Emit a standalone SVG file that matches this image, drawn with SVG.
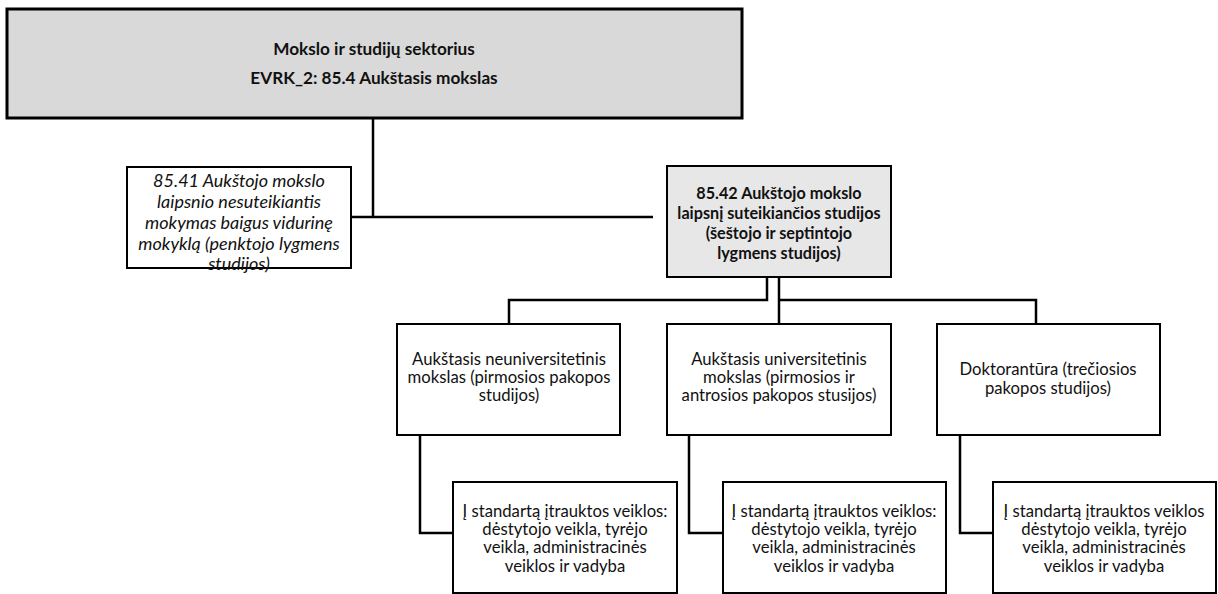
<svg xmlns="http://www.w3.org/2000/svg" width="1218" height="594" viewBox="0 0 1218 594">
<style>
.box{fill:#fff;stroke:#000;stroke-width:2}
.g1{fill:#d9d9d9;stroke:#000;stroke-width:3}
.g2{fill:#e7e7e7;stroke:#000;stroke-width:2}
.t{font-family:Lato,"Liberation Sans",sans-serif;font-size:16.7px;fill:#111;text-anchor:middle}
.b{font-weight:bold;font-size:17.2px}
.i{font-style:italic;font-size:18px}
.bb{font-weight:bold;font-size:16.2px}
.c{fill:none;stroke:#000;stroke-width:2.5}
</style>
<rect width="1218" height="594" fill="#fff"/>
<g id="connectors">
<polyline class="c" points="373,118 373,217"/>
<polyline class="c" points="351,217 653,217"/>
<polyline class="c" points="767,277 767,300 509,300 509,324"/>
<polyline class="c" points="779,277 779,324"/>
<polyline class="c" points="779,300 1036,300 1036,324"/>
<polyline class="c" points="420,435 420,533 453,533"/>
<polyline class="c" points="689,435 689,533 723,533"/>
<polyline class="c" points="960,435 960,533 993,533"/>
</g>
<g id="n_sector">
<rect class="g1" x="7" y="9" width="735" height="109"/>
<text class="t b" x="374" y="55">Mokslo ir studijų sektorius</text>
<text class="t b" x="374" y="84">EVRK_2: 85.4 Aukštasis mokslas</text>
</g>
<g id="n_8541">
<rect class="box" x="127" y="167" width="224" height="101"/>
<text class="t i" x="239" y="187">85.41 Aukštojo mokslo</text>
<text class="t i" x="239" y="208">laipsnio nesuteikiantis</text>
<text class="t i" x="239" y="229">mokymas baigus vidurinę</text>
<text class="t i" x="239" y="250">mokyklą (penktojo lygmens</text>
<text class="t i" x="239" y="270">studijos)</text>
</g>
<g id="n_8542">
<rect class="g2" x="667" y="166" width="224" height="111"/>
<text class="t bb" x="779" y="199">85.42 Aukštojo mokslo</text>
<text class="t bb" x="779" y="219">laipsnį suteikiančios studijos</text>
<text class="t bb" x="779" y="239">(šeštojo ir septintojo</text>
<text class="t bb" x="779" y="259">lygmens studijos)</text>
</g>
<g id="n_neuni">
<rect class="box" x="397" y="324" width="223" height="111"/>
<text class="t" x="509" y="365">Aukštasis neuniversitetinis</text>
<text class="t" x="509" y="383">mokslas (pirmosios pakopos</text>
<text class="t" x="509" y="401">studijos)</text>
</g>
<g id="n_uni">
<rect class="box" x="667" y="324" width="224" height="111"/>
<text class="t" x="779" y="365">Aukštasis universitetinis</text>
<text class="t" x="779" y="383">mokslas (pirmosios ir</text>
<text class="t" x="779" y="401">antrosios pakopos stusijos)</text>
</g>
<g id="n_dokt">
<rect class="box" x="937" y="324" width="223" height="111"/>
<text class="t" x="1048" y="375">Doktorantūra (trečiosios</text>
<text class="t" x="1048" y="394">pakopos studijos)</text>
</g>
<g id="n_std1">
<rect class="box" x="453" y="482" width="224" height="111"/>
<text class="t" x="565" y="517">Į standartą įtrauktos veiklos:</text>
<text class="t" x="565" y="535">dėstytojo veikla, tyrėjo</text>
<text class="t" x="565" y="553">veikla, administracinės</text>
<text class="t" x="565" y="572">veiklos ir vadyba</text>
</g>
<g id="n_std2">
<rect class="box" x="723" y="482" width="223" height="111"/>
<text class="t" x="834" y="517">Į standartą įtrauktos veiklos:</text>
<text class="t" x="834" y="535">dėstytojo veikla, tyrėjo</text>
<text class="t" x="834" y="553">veikla, administracinės</text>
<text class="t" x="834" y="572">veiklos ir vadyba</text>
</g>
<g id="n_std3">
<rect class="box" x="993" y="482" width="223" height="111"/>
<text class="t" x="1104" y="517">Į standartą įtrauktos veiklos</text>
<text class="t" x="1104" y="535">dėstytojo veikla, tyrėjo</text>
<text class="t" x="1104" y="553">veikla, administracinės</text>
<text class="t" x="1104" y="572">veiklos ir vadyba</text>
</g>
</svg>
